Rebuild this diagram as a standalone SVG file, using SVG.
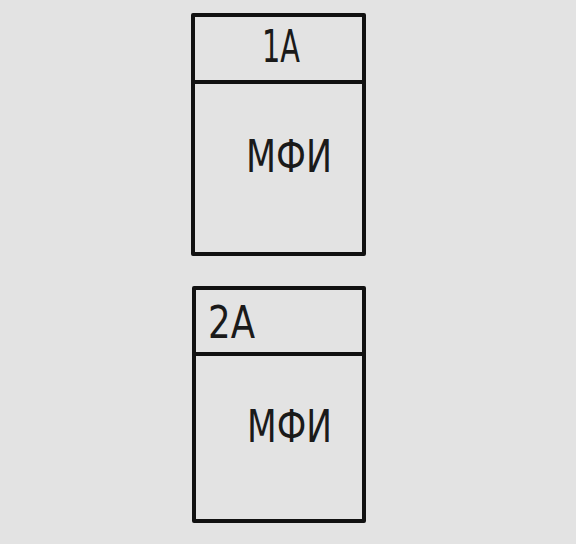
<svg xmlns="http://www.w3.org/2000/svg" width="576" height="544" viewBox="0 0 576 544">
<style>
.box{fill:none;stroke:#111;stroke-width:4;stroke-linejoin:round}
.t{font-family:"DejaVu Sans","Liberation Sans",sans-serif;font-size:45px;fill:#1a1a1a}
</style>
<rect width="576" height="544" fill="#e3e3e3"/>
<g id="node-1A">
<rect class="box" x="193" y="15" width="171" height="239"/>
<line class="box" x1="193" y1="82" x2="364" y2="82"/>
<text class="t" x="262" y="62" textLength="38" lengthAdjust="spacingAndGlyphs">1A</text>
<text class="t" x="246" y="172" textLength="86" lengthAdjust="spacingAndGlyphs">МФИ</text>
</g>
<g id="node-2A">
<rect class="box" x="194" y="288" width="170" height="233"/>
<line class="box" x1="194" y1="354" x2="364" y2="354"/>
<text class="t" x="208" y="338" textLength="47" lengthAdjust="spacingAndGlyphs">2A</text>
<text class="t" x="247" y="442" textLength="85" lengthAdjust="spacingAndGlyphs">МФИ</text>
</g>
<g id="connectors"></g>
</svg>
